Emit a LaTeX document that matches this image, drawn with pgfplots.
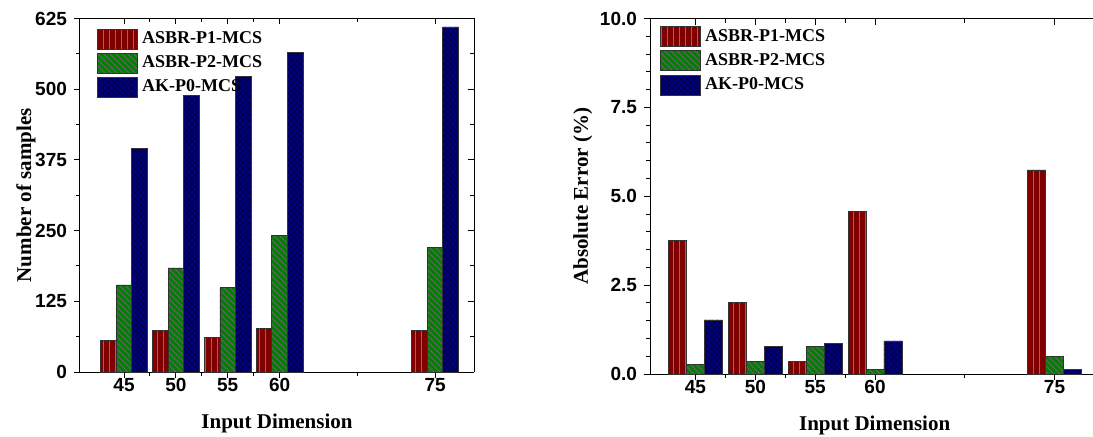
\documentclass[border=0pt]{standalone}
\usepackage{pgfplots}
\pgfplotsset{compat=1.18}
\usepackage{fontspec}
\setmainfont{Liberation Serif}
\setsansfont{Liberation Sans}
\usetikzlibrary{patterns}

\definecolor{cRed}{RGB}{128,0,0}
\definecolor{cGreen}{RGB}{0,128,0}
\definecolor{cBlue}{RGB}{0,0,128}

\pgfplotsset{
  serA/.style={fill=cRed, draw=black!80, line width=0.4pt,
    postaction={pattern=vertical lines, pattern color=black!55}},
  serB/.style={fill=cGreen, draw=black!80, line width=0.4pt,
    postaction={pattern=north west lines, pattern color=black!60}},
  serC/.style={fill=cBlue, draw=black!80, line width=0.4pt,
    postaction={pattern=crosshatch, pattern color=cBlue!55!black}},
  boxlegend/.style={legend image code/.code={
      \draw[##1] (0pt,-5pt) rectangle (20pt,5pt);}},
  tickfont/.style={font=\sffamily\bfseries\fontsize{9.5}{11}\selectfont},
  common/.style={
    scale only axis, ybar, bar width=1.5,
    axis x line*=bottom, axis y line*=left,
    tick align=outside, major tick length=3pt, minor tick length=2pt,
    xtick={45,50,55,60,75}, minor xtick={47.5,52.5,57.5,67.5},
    ymin=0,
    tick label style={tickfont},
    xticklabel shift=-3.5pt,
    /pgf/number format/assume math mode=true,
    label style={font=\bfseries\fontsize{10.5}{12}\selectfont},
    xlabel style={yshift=-4.5pt},
    xlabel={Input Dimension},
    axis line style={line width=0.5pt},
    tick style={black, line width=0.5pt},
    legend style={draw=none, fill=none, anchor=north west,
      font=\bfseries\fontsize{9}{11}\selectfont, row sep=0.6pt,
      inner sep=0pt, nodes={inner sep=2pt}},
    legend cell align=left,
  },
  frame/.style={
    scale only axis,
    axis x line*=top, axis y line*=right,
    tick align=inside, major tick length=3pt, minor tick length=2pt,
    xtick={45,50,55,60,75}, minor xtick={47.5,52.5,57.5,67.5},
    xticklabels={}, yticklabels={},
    axis line style={line width=0.5pt},
    tick style={black, line width=0.5pt},
  },
}

% number of samples per input dimension
\pgfplotstableread{
dim  p1   p2   p0
45   55   154  395
50   73   184  489
55   61   149  522
60   77   241  565
75   73   221  610
}\samples

% absolute error (%) per input dimension
\pgfplotstableread{
dim  p1    p2    p0
45   3.75  0.28  1.52
50   2.02  0.36  0.78
55   0.36  0.78  0.86
60   4.57  0.14  0.93
75   5.74  0.50  0.14
}\errors

\begin{document}
\begin{tikzpicture}
% left panel: number of samples
\begin{axis}[common, at={(0pt,0pt)}, anchor=south west,
    width=197pt, height=176.75pt,
    xmin=40.75, xmax=78.75, ymax=625,
    ytick={0,125,250,375,500,625}, minor y tick num=1,
    ylabel={Number of samples}, ylabel style={yshift=-7pt},
    legend style={at={(0.043,0.975)}}]
  \addplot[serA, boxlegend, bar shift=-1.5] table[x=dim, y=p1] {\samples};
  \addplot[serB, boxlegend, bar shift=0] table[x=dim, y=p2] {\samples};
  \addplot[serC, boxlegend, bar shift=1.5] table[x=dim, y=p0] {\samples};
  \legend{ASBR-P1-MCS, ASBR-P2-MCS, AK-P0-MCS}
\end{axis}
\begin{axis}[frame, at={(0pt,0pt)}, anchor=south west,
    width=197pt, height=176.75pt,
    xmin=40.75, xmax=78.75, ymin=0, ymax=625,
    ytick={0,125,250,375,500,625}, minor y tick num=1]
\end{axis}

% right panel: absolute error
\begin{axis}[common, at={(285pt,-1pt)}, anchor=south west,
    width=224.7pt, height=177.75pt,
    xmin=41.2, xmax=78.75, ymax=10,
    ytick={0,2.5,5,7.5,10}, minor y tick num=4,
    yticklabel style={/pgf/number format/.cd, fixed, fixed zerofill, precision=1},
    ylabel={Absolute Error (\%)}, ylabel style={yshift=-3pt},
    legend style={at={(0.022,0.982)}}]
  \addplot[serA, boxlegend, bar shift=-1.5] table[x=dim, y=p1] {\errors};
  \addplot[serB, boxlegend, bar shift=0] table[x=dim, y=p2] {\errors};
  \addplot[serC, boxlegend, bar shift=1.5] table[x=dim, y=p0] {\errors};
  \legend{ASBR-P1-MCS, ASBR-P2-MCS, AK-P0-MCS}
\end{axis}
\begin{axis}[frame, at={(285pt,-1pt)}, anchor=south west,
    width=224.7pt, height=177.75pt,
    xmin=41.2, xmax=78.75, ymin=0, ymax=10,
    ytick={0,2.5,5,7.5,10}, minor y tick num=4]
\end{axis}

\pgfresetboundingbox
\useasboundingbox (-40pt,-32pt) rectangle (506.5pt,186pt);
\end{tikzpicture}
\end{document}
